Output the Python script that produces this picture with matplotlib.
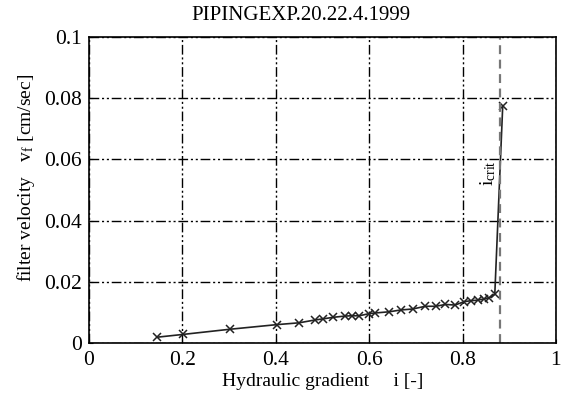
import numpy as np
import matplotlib.pyplot as plt

plt.rcParams['font.family'] = ['Liberation Serif', 'DejaVu Serif']
plt.rcParams['mathtext.fontset'] = 'stix'

# hydraulic gradient i [-] and filter velocity v_f [cm/sec]
gradient = [0.146, 0.201, 0.302, 0.402, 0.450, 0.483, 0.502, 0.523, 0.548,
            0.563, 0.579, 0.600, 0.612, 0.643, 0.668, 0.693, 0.720, 0.743,
            0.763, 0.784, 0.803, 0.817, 0.832, 0.846, 0.857, 0.869, 0.886]
velocity = [0.0019, 0.0028, 0.0045, 0.0060, 0.0066, 0.0075, 0.0079, 0.0084,
            0.0088, 0.0089, 0.0089, 0.0096, 0.0098, 0.0102, 0.0108, 0.0111,
            0.0120, 0.0120, 0.0126, 0.0124, 0.0135, 0.0138, 0.0140, 0.0144,
            0.0148, 0.0159, 0.0775]
i_crit = 0.880

fig = plt.figure(figsize=(5.65, 3.97), dpi=100)
ax = fig.add_axes([0.1575, 0.136, 0.8265, 0.771])

ax.plot(gradient, velocity, color='#222222', lw=1.2, marker='x', ms=5.5, mew=1.1)
ax.axvline(i_crit, color='#777777', lw=1.6, ls=(0, (4, 2.5)))
ax.text(i_crit - 0.026, 0.0556, r'$\mathregular{i_{crit}}$', rotation=90,
        fontsize=14, ha='center', va='center')

ax.set_xlim(0, 1)
ax.set_ylim(0, 0.1)
ax.set_xticks(np.arange(0, 1.01, 0.2))
ax.set_xticklabels(['0', '0.2', '0.4', '0.6', '0.8', '1'])
ax.set_yticks(np.arange(0, 0.101, 0.02))
ax.set_yticklabels(['0', '0.02', '0.04', '0.06', '0.08', '0.1'])
ax.grid(True, color='black', lw=1.0, ls=(0, (7, 2, 1.5, 2, 1.5, 2)))
ax.tick_params(direction='in', labelsize=15.5, length=3)
ax.tick_params(axis='x', pad=6)
ax.tick_params(axis='y', pad=5)
for s in ax.spines.values():
    s.set_linewidth(1.2)

ax.set_title('PIPINGEXP.20.22.4.1999', fontsize=15, pad=12, x=0.454)
ax.set_xlabel('Hydraulic gradient     i [-]', fontsize=14, labelpad=2)
ax.set_ylabel(r'filter velocity   v$_\mathregular{f}$ [cm/sec]', fontsize=14,
              labelpad=5, y=0.54)

fig.savefig('out.png', dpi=100)
